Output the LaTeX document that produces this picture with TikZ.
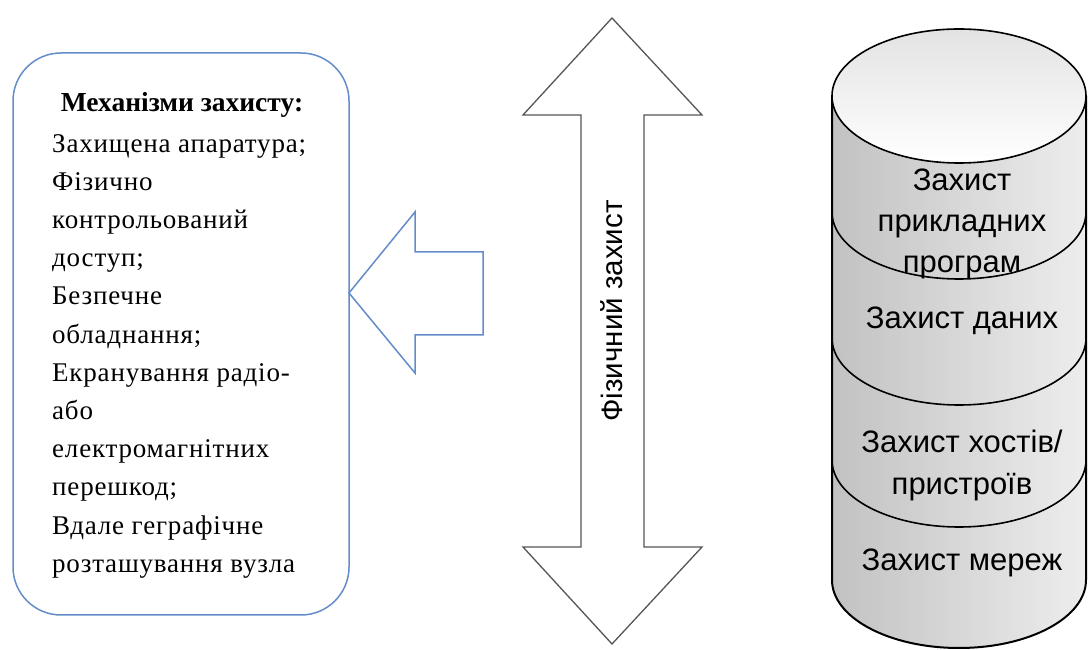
\documentclass[tikz,border=0pt]{standalone}
\usepackage{fontspec}
\setmainfont{Liberation Serif}
\newfontfamily\arialf{Liberation Sans}
\newfontfamily\spacedserif[LetterSpace=3]{Liberation Serif}
\definecolor{boxblue}{RGB}{100,140,200}
\definecolor{arrowgray}{RGB}{85,85,85}
\tikzset{
  mechbox/.style={draw=boxblue, line width=1.5pt, rounded corners=48pt, minimum width=336pt, minimum height=562pt, fill=white},
  bluearrow/.style={draw=boxblue, line width=1.5pt, fill=white, line join=miter},
  grayarrow/.style={draw=arrowgray, line width=1.3pt, fill=white, line join=miter},
  cylline/.style={draw=black, line width=1.6pt},
  cyltext/.style={font=\arialf\fontsize{31}{41}\selectfont, align=center, inner sep=0pt},
}
\begin{document}
\begin{tikzpicture}[x=1pt,y=1pt]
\useasboundingbox (0,0) rectangle (1088,650);
% left box
\node[mechbox] (box) at (181,316) {};
\node[inner sep=0pt, font=\bfseries\fontsize{27.5}{30}\selectfont] (title) at (182,545) {Механізми захисту:};
\node[anchor=north west, align=left, inner sep=0pt, font=\spacedserif\fontsize{27}{38.2}\selectfont] (mech) at (52,516)
 {Захищена апаратура;\\Фізично\\контрольований\\доступ;\\Безпечне\\обладнання;\\Екранування радіо-\\або\\електромагнітних\\перешкод;\\Вдале геграфічне\\розташування вузла};
% left arrow
\draw[bluearrow] (349,357) -- (415,438) -- (415,398) -- (483,398) -- (483,315) -- (415,315) -- (415,277) -- cycle;
% double arrow
\draw[grayarrow] (612,632) -- (702,535) -- (644,535) -- (644,103) -- (702,103) -- (612,6) -- (523,103) -- (581,103) -- (581,535) -- (523,535) -- cycle;
\node[rotate=90, font=\arialf\fontsize{29.5}{34}\selectfont, inner sep=0pt] (phys) at (612,339) {Фізичний захист};
% cylinder body
\path[left color=gray!48, right color=gray!14] (832,554) -- (832,70) arc (180:360:127 and 68) -- (1086,554) -- cycle;
\draw[cylline, line width=2pt] (832,554) -- (832,70) arc (180:360:127 and 68) -- (1086,554);
\draw[cylline] (832,438) arc (180:360:127 and 67);
\draw[cylline] (832,312) arc (180:360:127 and 67);
\draw[cylline] (832,190) arc (180:360:127 and 67);
% top ellipse
\path[top color=gray!22, bottom color=white] (959,554) ellipse (127 and 67);
\draw[cylline] (959,554) ellipse (127 and 67);
% cylinder labels
\node[cyltext] (app) at (962,426) {Захист\\прикладних\\програм};
\node[cyltext] (data) at (962,329) {Захист даних};
\node[cyltext, font=\arialf\fontsize{31}{42}\selectfont] (host) at (962,185) {Захист хостів/\\пристроїв};
\node[cyltext] (net) at (962,87) {Захист мереж};
\end{tikzpicture}
\end{document}
